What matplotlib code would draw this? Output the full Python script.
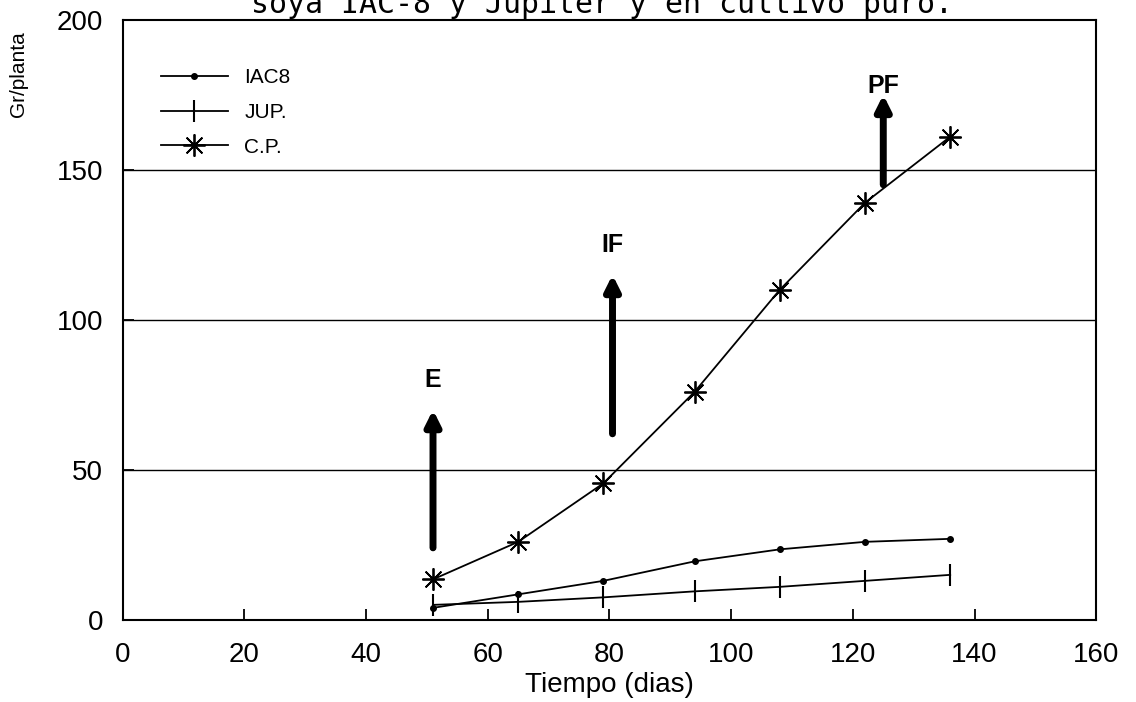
import matplotlib.pyplot as plt

# days after sowing
dias = [51, 65, 79, 94, 108, 122, 136]
iac8 = [4, 8.5, 13, 19.5, 23.5, 26, 27]
jup = [5, 6, 7.5, 9.5, 11, 13, 15]
cp = [13.5, 26, 45.5, 76, 110, 139, 161]

# phenological stage arrows: label, x, y_tail, y_head, y_label
etapas = ["E", "IF", "PF"]
etapa_x = [51, 80.5, 125]
etapa_y0 = [24, 62, 145]
etapa_y1 = [70, 115, 175]
etapa_ylab = [80, 125, 178]

xticks = [0, 20, 40, 60, 80, 100, 120, 140, 160]
yticks = [0, 50, 100, 150, 200]

plt.rcParams["font.family"] = ["Liberation Sans", "DejaVu Sans"]

fig = plt.figure(figsize=(11.36, 7.02), dpi=100)
ax = fig.add_axes([0.108, 0.117, 0.857, 0.855])

ax.plot(dias, iac8, color="black", lw=1.3, marker="o", ms=4, label="IAC8")
ax.plot(dias, jup, color="black", lw=1.3, marker="|", ms=16, mew=1.5, label="JUP.")
ax.plot(dias, cp, color="black", lw=1.3, marker=(8, 2, 0), ms=16, mew=1.3, label="C.P.")

for lab, x, y0, y1, yl in zip(etapas, etapa_x, etapa_y0, etapa_y1, etapa_ylab):
    ax.annotate("", xy=(x, y1), xytext=(x, y0),
                arrowprops=dict(arrowstyle="-|>", lw=5, mutation_scale=22,
                                color="black", shrinkA=0, shrinkB=0))
    ax.text(x, yl, lab, ha="center", va="center", fontsize=18, fontweight="bold")

for y in [50, 100, 150]:
    ax.axhline(y, color="black", lw=1.0)

ax.set_xlim(0, 160)
ax.set_ylim(0, 200)
ax.set_xticks(xticks)
ax.set_yticks(yticks)
ax.tick_params(direction="in", length=8, width=1.3, labelsize=20)
ax.tick_params(axis="x", pad=16)
ax.tick_params(axis="y", pad=14)
for s in ax.spines.values():
    s.set_linewidth(1.5)

ax.set_xlabel("Tiempo (dias)", fontsize=20, labelpad=3)
fig.text(0.016, 0.895, "Gr/planta", rotation=90, ha="center", va="center", fontsize=15)

ax.legend(loc="upper left", bbox_to_anchor=(0.02, 0.95), frameon=False,
          handlelength=3.2, fontsize=15, labelspacing=0.75)

fig.text(0.53, 0.994, "soya IAC-8 y Jupiter y en cultivo puro.", ha="center",
         va="center", fontsize=21.5, family="DejaVu Sans Mono")

fig.savefig("out.png", dpi=100)
